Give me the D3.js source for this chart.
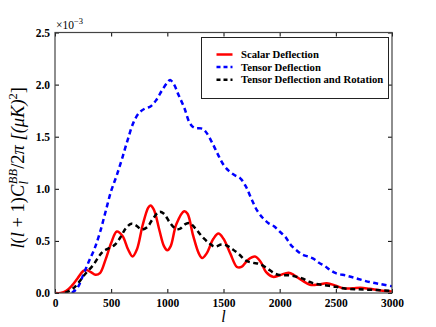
<!DOCTYPE html>
<html lang="en">
<head>
  <meta charset="UTF-8">
  <title>BB spectrum</title>
  <script src="https://d3js.org/d3.v7.min.js"></script>
  <style>
    body { margin: 0; background: #fff; }
    .tick text { font-family: "Liberation Serif", serif; font-weight: bold; font-size: 11.5px; fill: #000; }
    .legend text { font-family: "Liberation Serif", serif; font-weight: bold; font-size: 10.7px; }
  </style>
</head>
<body>
  <svg id="chart" width="436" height="327"></svg>
  <script>
    // values in units of 1e-3 (muK)^2
    const scalarL = [0, 50, 100, 150, 200, 250, 280, 320, 360, 400, 450, 500, 550, 600, 650, 690, 730, 780, 830, 850, 880, 930, 970, 1000, 1030, 1080, 1150, 1180, 1230, 1280, 1310, 1350, 1410, 1455, 1500, 1560, 1620, 1660, 1720, 1780, 1830, 1880, 1940, 2000, 2080, 2130, 2200, 2270, 2340, 2420, 2500, 2570, 2650, 2720, 2800, 2900, 3000];
    const scalarV = [0, 0, 0.02, 0.07, 0.14, 0.21, 0.22, 0.2, 0.175, 0.19, 0.32, 0.48, 0.59, 0.55, 0.42, 0.35, 0.42, 0.65, 0.82, 0.84, 0.8, 0.6, 0.45, 0.41, 0.45, 0.66, 0.785, 0.76, 0.55, 0.38, 0.335, 0.38, 0.52, 0.57, 0.52, 0.38, 0.25, 0.25, 0.32, 0.35, 0.3, 0.2, 0.155, 0.17, 0.195, 0.17, 0.12, 0.08, 0.08, 0.093, 0.07, 0.045, 0.045, 0.05, 0.04, 0.025, 0.015];

    const tensorL = [150, 200, 250, 300, 350, 400, 450, 500, 550, 600, 650, 700, 750, 800, 850, 900, 950, 1000, 1025, 1060, 1100, 1150, 1200, 1240, 1300, 1340, 1400, 1450, 1500, 1550, 1600, 1650, 1700, 1750, 1800, 1850, 1900, 1950, 2000, 2050, 2100, 2150, 2200, 2250, 2300, 2350, 2400, 2450, 2500, 2600, 2700, 2800, 2900, 3000];
    const tensorV = [0, 0.05, 0.17, 0.3, 0.42, 0.58, 0.78, 0.98, 1.13, 1.3, 1.48, 1.64, 1.73, 1.77, 1.79, 1.85, 1.94, 2.02, 2.045, 2.0, 1.9, 1.78, 1.63, 1.585, 1.58, 1.55, 1.44, 1.33, 1.23, 1.17, 1.13, 1.1, 1.02, 0.9, 0.79, 0.72, 0.67, 0.64, 0.59, 0.54, 0.46, 0.41, 0.37, 0.35, 0.33, 0.29, 0.26, 0.22, 0.19, 0.165, 0.135, 0.105, 0.085, 0.065];

    const rotL = [90, 163, 210, 267, 341, 400, 430, 480, 530, 580, 630, 680, 720, 770, 820, 870, 930, 970, 1020, 1070, 1110, 1160, 1200, 1250, 1310, 1370, 1420, 1480, 1520, 1580, 1640, 1700, 1760, 1820, 1890, 1960, 2020, 2090, 2150, 2200, 2260, 2310, 2400, 2500, 2570, 2700, 2850, 3000];
    const rotV = [0, 0.045, 0.1, 0.18, 0.27, 0.365, 0.4, 0.43, 0.46, 0.53, 0.62, 0.665, 0.65, 0.61, 0.63, 0.71, 0.78, 0.76, 0.68, 0.62, 0.615, 0.66, 0.67, 0.62, 0.54, 0.48, 0.445, 0.465, 0.46, 0.42, 0.37, 0.31, 0.29, 0.28, 0.235, 0.185, 0.17, 0.17, 0.155, 0.14, 0.11, 0.09, 0.075, 0.06, 0.045, 0.035, 0.03, 0.02];

    const xTicks = [0, 500, 1000, 1500, 2000, 2500, 3000];
    const yTicks = [0, 0.5, 1.0, 1.5, 2.0, 2.5];

    const series = [
      { name: "Scalar Deflection", l: scalarL, v: scalarV, color: "#ff0000", dash: null },
      { name: "Tensor Deflection", l: tensorL, v: tensorV, color: "#0000ff", dash: "5,3.5" },
      { name: "Tensor Deflection and Rotation", l: rotL, v: rotV, color: "#000000", dash: "5,3.5" }
    ];

    const margin = { top: 32.5, right: 44, bottom: 34, left: 55 };
    const width = 436 - margin.left - margin.right;
    const height = 327 - margin.top - margin.bottom;

    const svg = d3.select("#chart");
    const g = svg.append("g").attr("transform", `translate(${margin.left},${margin.top})`);

    const x = d3.scaleLinear().domain([0, 3000]).range([0, width]);
    const y = d3.scaleLinear().domain([0, 2.5]).range([height, 0]);

    g.append("clipPath").attr("id", "clip")
      .append("rect").attr("width", width).attr("height", height);

    const line = d3.line()
      .x(d => x(d[0]))
      .y(d => y(d[1]))
      .curve(d3.curveCatmullRom.alpha(0.5));

    const lines = g.append("g").attr("clip-path", "url(#clip)");
    series.forEach(s => {
      lines.append("path")
        .datum(s.l.map((l, i) => [l, s.v[i]]))
        .attr("fill", "none")
        .attr("stroke", s.color)
        .attr("stroke-width", 2.5)
        .attr("stroke-dasharray", s.dash)
        .attr("d", line);
    });

    // axes with inward ticks
    g.append("g").attr("transform", `translate(0,${height})`)
      .call(d3.axisBottom(x).tickValues(xTicks).tickFormat(d3.format("d")).tickSizeInner(-4).tickSizeOuter(0).tickPadding(6));
    g.append("g")
      .call(d3.axisLeft(y).tickValues(yTicks).tickFormat(d3.format(".1f")).tickSizeInner(-4).tickSizeOuter(0).tickPadding(5));
    g.append("g").call(d3.axisTop(x).tickValues(xTicks).tickFormat("").tickSizeInner(-4).tickSizeOuter(0));
    g.append("g").attr("transform", `translate(${width},0)`)
      .call(d3.axisRight(y).tickValues(yTicks).tickFormat("").tickSizeInner(-4).tickSizeOuter(0));
    g.selectAll(".domain").remove();
    g.selectAll(".tick line").attr("stroke", "#000");

    g.append("rect")
      .attr("width", width).attr("height", height)
      .attr("fill", "none").attr("stroke", "#444").attr("stroke-width", 1.2);

    // offset text
    const off = svg.append("text")
      .attr("x", margin.left + 1).attr("y", margin.top - 4)
      .attr("font-family", "Liberation Serif, serif").attr("font-size", 11.5);
    off.append("tspan").text("\u00d710");
    off.append("tspan").attr("dy", -5).attr("font-size", 8.5).text("\u22123");

    // axis labels
    svg.append("text")
      .attr("x", margin.left + width / 2).attr("y", 322)
      .attr("text-anchor", "middle")
      .attr("font-family", "Liberation Serif, serif").attr("font-style", "italic").attr("font-size", 16)
      .text("l");

    const yl = svg.append("text")
      .attr("transform", `translate(24,${margin.top + height / 2 + 5}) rotate(-90)`)
      .attr("text-anchor", "middle")
      .attr("font-family", "Liberation Serif, serif").attr("font-size", 18.5);
    yl.append("tspan").attr("font-style", "italic").text("l");
    yl.append("tspan").text("(");
    yl.append("tspan").attr("font-style", "italic").text("l");
    yl.append("tspan").text(" + 1)");
    yl.append("tspan").attr("font-style", "italic").text("C");
    yl.append("tspan").attr("font-style", "italic").attr("font-size", 12.5).attr("dy", 4).text("l");
    yl.append("tspan").attr("font-style", "italic").attr("font-size", 12.5).attr("dx", -3).attr("dy", -11).text("BB");
    yl.append("tspan").attr("dy", 7).text("/2");
    yl.append("tspan").attr("font-style", "italic").text("\u03c0 [(\u03bcK)");
    yl.append("tspan").attr("font-size", 12.5).attr("dy", -7).text("2");
    yl.append("tspan").attr("dy", 7).text("]");

    // legend
    const leg = svg.append("g").attr("class", "legend").attr("transform", "translate(201.5,37.5)");
    leg.append("rect").attr("width", 187).attr("height", 61)
      .attr("fill", "#fff").attr("stroke", "#222").attr("stroke-width", 1);
    series.forEach((s, i) => {
      const yy = 17 + i * 12.6;
      leg.append("line")
        .attr("x1", 15).attr("x2", 31).attr("y1", yy).attr("y2", yy)
        .attr("stroke", s.color).attr("stroke-width", 2.5)
        .attr("stroke-dasharray", s.dash ? "4,3" : null);
      leg.append("text").attr("x", 39.5).attr("y", yy + 3.7).text(s.name);
    });
  </script>
</body>
</html>
